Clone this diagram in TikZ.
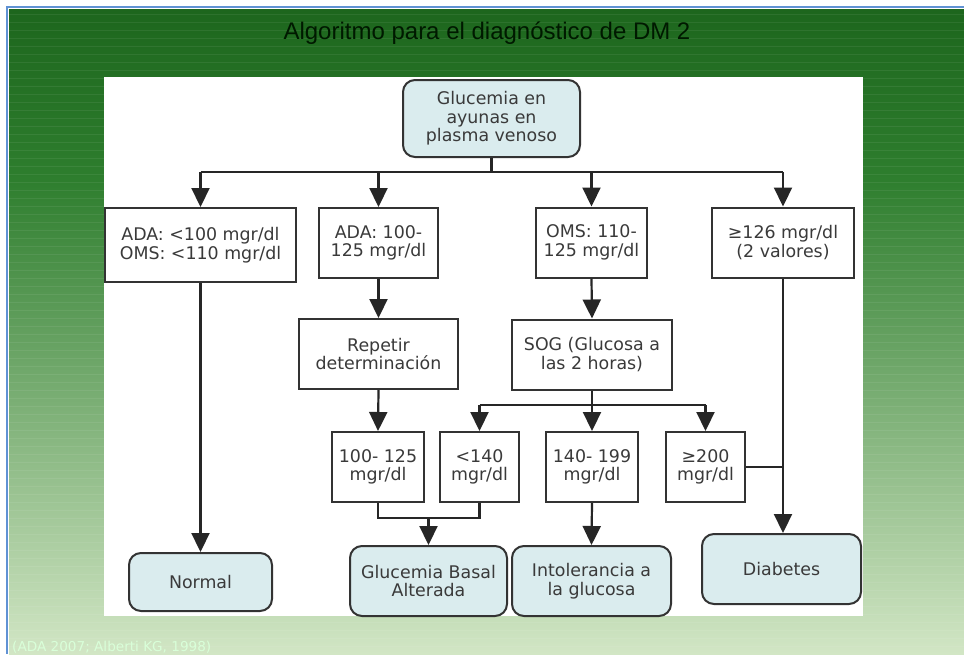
\documentclass[tikz,border=0pt]{standalone}
\usepackage{fontspec}
\setmainfont{DejaVu Sans}
\newfontfamily\titlefont{Liberation Sans}
\usepackage{xcolor}
\usetikzlibrary{arrows.meta}

\definecolor{boxblue}{RGB}{218,236,238}
\definecolor{txtgray}{RGB}{58,58,58}
\definecolor{greendark}{RGB}{29,102,29}
\definecolor{greenmid}{RGB}{46,126,46}
\definecolor{greenlight}{RGB}{210,230,197}
\definecolor{frameblue}{RGB}{96,146,212}

\begin{document}
\begin{tikzpicture}[x=1pt, y=-1pt,
    block/.style={rectangle, draw=black!80, line width=2pt, fill=white, text=txtgray, align=center, minimum height=70pt, inner sep=2pt, font=\fontsize{17.4}{18.4}\selectfont},
    outcome/.style={block, rounded corners=12pt, fill=boxblue},
    arrow/.style={-{Triangle[width=18pt,length=19pt]}, line width=2.2pt, draw=black!85},
    line/.style={line width=2.2pt, draw=black!85}
]
    \useasboundingbox (0,0) rectangle (964,654);

    % background
    \fill[white] (0,0) rectangle (964,654);
    \shade[top color=greendark, bottom color=greenmid] (9,9) rectangle (964,180);
    \shade[top color=greenmid, bottom color=greenlight] (9,180) rectangle (964,654);
    \foreach \y in {14,22,...,650}
        \draw[white, opacity=0.07, line width=1pt] (9,\y) -- (964,\y);
    \draw[frameblue, line width=2pt] (6,7) -- (964,7);
    \draw[frameblue, line width=2pt] (7,6) -- (7,654);
    \fill[white] (104,77) rectangle (863,616);

    \node[anchor=base, text=black!90!green, font=\titlefont\fontsize{24}{28}\selectfont] (title) at (487,39) {Algoritmo para el diagnóstico de DM 2};
    \node[anchor=base west, inner sep=0pt, text=white!85!green, font=\fontsize{13.6}{15}\selectfont] (ref) at (12,651) {(ADA 2007; Alberti KG, 1998)};

    % nodes
    \node[outcome, minimum width=177pt, minimum height=77pt] (gluc) at (491.5,118.5) {Glucemia en\\ayunas en\\plasma venoso};

    \node[block, minimum width=191pt, minimum height=74pt] (adaN) at (200.5,245) {ADA: <100 mgr/dl\\OMS: <110 mgr/dl};
    \node[block, minimum width=119pt] (adaB) at (378.5,243) {ADA: 100-\\125 mgr/dl};
    \node[block, minimum width=111pt] (omsB) at (591.5,242.5) {OMS: 110-\\125 mgr/dl};
    \node[block, minimum width=142pt] (dmHigh) at (783,242.5) {≥126 mgr/dl\\(2 valores)};

    \node[block, minimum width=159pt] (repet) at (378.5,354) {Repetir\\determinación};
    \node[block, minimum width=160pt] (sog) at (592,354.5) {SOG (Glucosa a\\las 2 horas)};

    \node[block, minimum width=92pt] (r100) at (378,467) {100- 125\\mgr/dl};
    \node[block, minimum width=79pt] (r140) at (479.5,467) {<140\\mgr/dl};
    \node[block, minimum width=92pt] (r199) at (592,467) {140- 199\\mgr/dl};
    \node[block, minimum width=79pt] (r200) at (705.5,467) {≥200\\mgr/dl};

    \node[outcome, minimum width=143pt, minimum height=58pt] (normal) at (200.5,582) {Normal};
    \node[outcome, minimum width=157pt] (basal) at (428.5,581) {Glucemia Basal\\Alterada};
    \node[outcome, minimum width=159pt] (intol) at (591.5,581) {Intolerancia a\\la glucosa};
    \node[outcome, minimum width=159pt] (diab) at (781.5,569) {Diabetes};

    \coordinate (topbus) at (0,172);
    \coordinate (sogbus) at (0,405);
    \coordinate (gbabus) at (0,518);

    % connectors
    \draw[line] (gluc.south) -- (gluc.south |- topbus);
    \draw[line] (adaN.north |- topbus) -- (dmHigh.north |- topbus);
    \draw[arrow] (adaN.north |- topbus) -- (adaN.north);
    \draw[arrow] (adaB.north |- topbus) -- (adaB.north);
    \draw[arrow] (omsB.north |- topbus) -- (omsB.north);
    \draw[arrow] (dmHigh.north |- topbus) -- (dmHigh.north);

    \draw[arrow] (adaN.south) -- (normal.north);
    \draw[arrow] (adaB.south) -- (repet.north);
    \draw[arrow] (repet.south) -- (r100.north);
    \draw[arrow] (omsB.south) -- (sog.north);

    \draw[line] (sog.south) -- (sog.south |- sogbus);
    \draw[line] (r140.north |- sogbus) -- (r200.north |- sogbus);
    \draw[arrow] (r140.north |- sogbus) -- (r140.north);
    \draw[arrow] (r199.north |- sogbus) -- (r199.north);
    \draw[arrow] (r200.north |- sogbus) -- (r200.north);

    \draw[line] (r100.south) -- (r100.south |- gbabus) -- (r140.south |- gbabus) -- (r140.south);
    \draw[arrow] (basal.north |- gbabus) -- (basal.north);
    \draw[arrow] (r199.south) -- (intol.north);

    \draw[arrow] (dmHigh.south) -- (dmHigh.south |- diab.north);
    \draw[line] (r200.east) -- (r200.east -| dmHigh.south);
\end{tikzpicture}
\end{document}
